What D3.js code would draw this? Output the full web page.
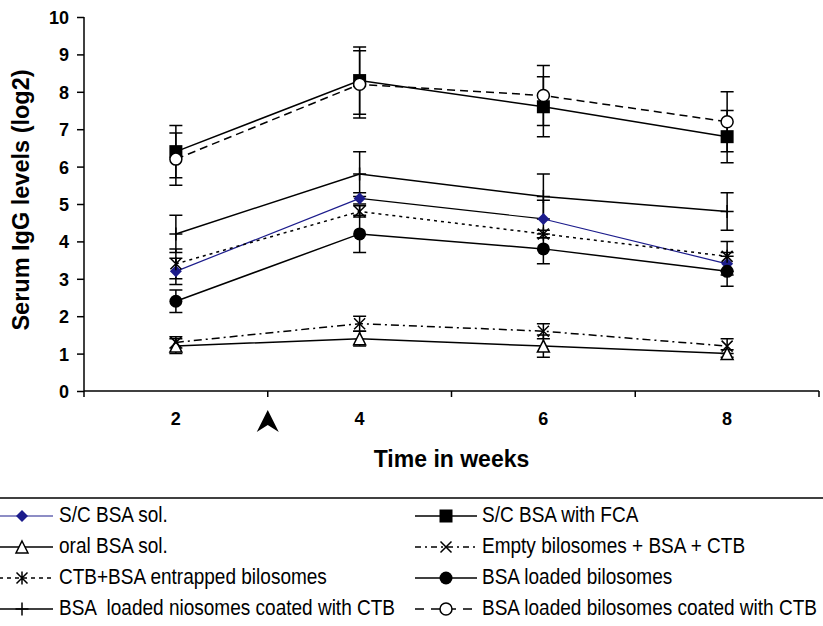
<!DOCTYPE html>
<html><head><meta charset="utf-8">
<script src="https://cdn.jsdelivr.net/npm/d3@7"></script>
<style>
body{margin:0;background:#fff;}
svg{display:block;font-family:"Liberation Sans",Arial,sans-serif;}
</style></head>
<body><svg id="c" width="823" height="626"></svg>
<script>
const weeks = ["2","4","6","8"];
const yTicks = [0,1,2,3,4,5,6,7,8,9,10];
const boosterWeek = "4"; // arrow sits on the boundary before week 4 (week 3)

const names = ["S/C BSA sol.","S/C BSA with FCA","oral BSA sol.","Empty bilosomes + BSA + CTB",
  "CTB+BSA entrapped bilosomes","BSA loaded bilosomes","BSA  loaded niosomes coated with CTB","BSA loaded bilosomes coated with CTB"];

const scSol      = [3.2, 5.15, 4.6, 3.4];
const scSolErr   = [0.35, 0.15, 0.5, 0.3];
const fca        = [6.4, 8.3, 7.6, 6.8];
const fcaErr     = [0.7, 0.9, 0.8, 0.7];
const oral       = [1.2, 1.4, 1.2, 1.0];
const oralErr    = [0.2, 0.2, 0.3, 0.1];
const empty      = [1.3, 1.8, 1.6, 1.2];
const emptyErr   = [0.15, 0.2, 0.2, 0.2];
const ctbEnt     = [3.4, 4.8, 4.2, 3.6];
const ctbEntErr  = [0.4, 0.15, 0.1, 0.4];
const biloLoaded = [2.4, 4.2, 3.8, 3.2];
const biloErr    = [0.3, 0.5, 0.4, 0.4];
const nioCTB     = [4.2, 5.8, 5.2, 4.8];
const nioErr     = [0.5, 0.6, 0.6, 0.5];
const biloCTB    = [6.2, 8.2, 7.9, 7.2];
const biloCTBErr = [0.7, 0.9, 0.8, 0.8];

const series = [
  {name:names[0], v:scSol, e:scSolErr, color:"#1c1c8c", dash:null, marker:"diamond", segColors:["#1c1c8c","#000","#1c1c8c"], w:1.2},
  {name:names[1], v:fca, e:fcaErr, color:"#000", dash:null, marker:"square"},
  {name:names[2], v:oral, e:oralErr, color:"#000", dash:null, marker:"triangle"},
  {name:names[3], v:empty, e:emptyErr, color:"#000", dash:"8,4,2,4", marker:"x", legDash:"6,4,2,4"},
  {name:names[4], v:ctbEnt, e:ctbEntErr, color:"#000", dash:"3,4", marker:"star", legDash:"4,4"},
  {name:names[5], v:biloLoaded, e:biloErr, color:"#000", dash:null, marker:"circle"},
  {name:names[6], v:nioCTB, e:nioErr, color:"#000", dash:null, marker:"plus"},
  {name:names[7], v:biloCTB, e:biloCTBErr, color:"#000", dash:"8,5", marker:"ocircle", legDash:"9,7"}
];
const legendLeft = [0,2,4,6];
const legendRight = [1,3,5,7];

const svg = d3.select("#c");
const x = d3.scaleBand().domain(weeks).range([84, 819]);
const y = d3.scaleLinear().domain([0,10]).range([391, 17]);
const cx = d => x(d) + x.bandwidth()/2;

// axes
const yAxis = d3.axisLeft(y).tickValues(yTicks).tickSize(7).tickPadding(8).tickFormat(d3.format("d"));
const gy = svg.append("g").attr("transform","translate(84,0)").call(yAxis);
gy.select(".domain").attr("stroke","#000").attr("stroke-width",1.5).attr("d","M0,391V17");
gy.selectAll(".tick line").attr("stroke","#000").attr("stroke-width",1.5);
gy.selectAll(".tick text").attr("font-size",18).attr("font-weight","bold").attr("fill","#000").attr("dy","0.36em");

const gx = svg.append("g").attr("transform","translate(0,391)");
gx.append("line").attr("x1",84).attr("x2",819).attr("stroke","#000").attr("stroke-width",1.5);
const bounds = weeks.map(w => x(w)).concat([x.range()[1]]);
gx.selectAll("line.tk").data(bounds).join("line").attr("class","tk")
  .attr("x1",d=>d).attr("x2",d=>d).attr("y1",0).attr("y2",6).attr("stroke","#000").attr("stroke-width",1.5);
gx.selectAll("text").data(weeks).join("text")
  .attr("x",d=>cx(d)).attr("y",34).attr("text-anchor","middle")
  .attr("font-size",18).attr("font-weight","bold").text(d=>d);

// titles
svg.append("text").attr("x",451.5).attr("y",467).attr("text-anchor","middle")
  .attr("font-size",23).attr("font-weight","bold").text("Time in weeks");
svg.append("text").attr("transform","translate(29,200) rotate(-90)").attr("text-anchor","middle")
  .attr("font-size",23.5).attr("font-weight","bold").text("Serum IgG levels (log2)");

// booster arrow
const ax = x(boosterWeek);
svg.append("path").attr("d",`M${ax},410 L${ax+11},432 L${ax},425 L${ax-11},432 Z`).attr("fill","#000");

// markers
function drawMarker(g, type, px, py, color){
  const s = 6.5;
  switch(type){
    case "diamond": g.append("path").attr("d",`M${px},${py-6}L${px+6},${py}L${px},${py+6}L${px-6},${py}Z`).attr("fill",color); break;
    case "square": g.append("rect").attr("x",px-6.5).attr("y",py-6.5).attr("width",13).attr("height",13).attr("fill","#000"); break;
    case "triangle": g.append("path").attr("d",`M${px},${py-6}L${px+6},${py+6}L${px-6},${py+6}Z`).attr("fill","#fff").attr("stroke","#000").attr("stroke-width",1.5); break;
    case "x": g.append("path").attr("d",`M${px-5.5},${py-5.5}L${px+5.5},${py+5.5}M${px+5.5},${py-5.5}L${px-5.5},${py+5.5}`).attr("stroke","#000").attr("stroke-width",1.5); break;
    case "star": g.append("path").attr("d",`M${px-5.5},${py-5.5}L${px+5.5},${py+5.5}M${px+5.5},${py-5.5}L${px-5.5},${py+5.5}M${px},${py-6.5}L${px},${py+6.5}`).attr("stroke","#000").attr("stroke-width",1.5); break;
    case "circle": g.append("circle").attr("cx",px).attr("cy",py).attr("r",s).attr("fill","#000"); break;
    case "ocircle": g.append("circle").attr("cx",px).attr("cy",py).attr("r",6).attr("fill","#fff").attr("stroke","#000").attr("stroke-width",1.5); break;
    case "plus": g.append("path").attr("d",`M${px-6.5},${py}L${px+6.5},${py}M${px},${py-6.5}L${px},${py+6.5}`).attr("stroke","#000").attr("stroke-width",1.5); break;
  }
}

const plot = svg.append("g");
// error bars
series.forEach(s=>{
  const g = plot.append("g");
  weeks.forEach((w,i)=>{
    const px = cx(w), hi = y(s.v[i]+s.e[i]), lo = y(s.v[i]-s.e[i]);
    g.append("path").attr("d",`M${px},${hi}V${lo}M${px-6.5},${hi}H${px+6.5}M${px-6.5},${lo}H${px+6.5}`)
      .attr("stroke","#000").attr("stroke-width",1.5).attr("fill","none");
  });
});
// lines
series.forEach(s=>{
  const g = plot.append("g");
  if (s.segColors){
    for(let i=0;i<weeks.length-1;i++){
      g.append("line").attr("x1",cx(weeks[i])).attr("y1",y(s.v[i])).attr("x2",cx(weeks[i+1])).attr("y2",y(s.v[i+1]))
        .attr("stroke",s.segColors[i]).attr("stroke-width",s.w||1.5);
    }
  } else {
    const line = d3.line().x((d,i)=>cx(weeks[i])).y(d=>y(d));
    g.append("path").attr("d",line(s.v)).attr("fill","none").attr("stroke",s.color)
      .attr("stroke-width",1.5).attr("stroke-dasharray",s.dash);
  }
});
// markers
series.forEach(s=>{
  const g = plot.append("g");
  weeks.forEach((w,i)=>drawMarker(g, s.marker, cx(w), y(s.v[i]), s.color));
});

// legend
svg.append("line").attr("x1",0).attr("x2",823).attr("y1",498).attr("y2",498).attr("stroke","#000").attr("stroke-width",1.5);
const rowY = [516,547,578,609];
function legendCol(idxs, x0, x1, mx, tx){
  idxs.forEach((si,r)=>{
    const s = series[si], ly = rowY[r];
    svg.append("line").attr("x1",x0).attr("x2",x1).attr("y1",ly).attr("y2",ly)
      .attr("stroke",s.color).attr("stroke-width",s.w||1.5).attr("stroke-dasharray",s.legDash||null);
    drawMarker(svg, s.marker, mx, ly, s.color);
    svg.append("text").attr("transform",`translate(${tx},${ly+6}) scale(0.865,1)`)
      .attr("font-size",22).attr("xml:space","preserve").style("white-space","pre").text(s.name);
  });
}
legendCol(legendLeft, -9, 53, 22, 59);
legendCol(legendRight, 415, 477, 446, 482);
</script></body></html>
